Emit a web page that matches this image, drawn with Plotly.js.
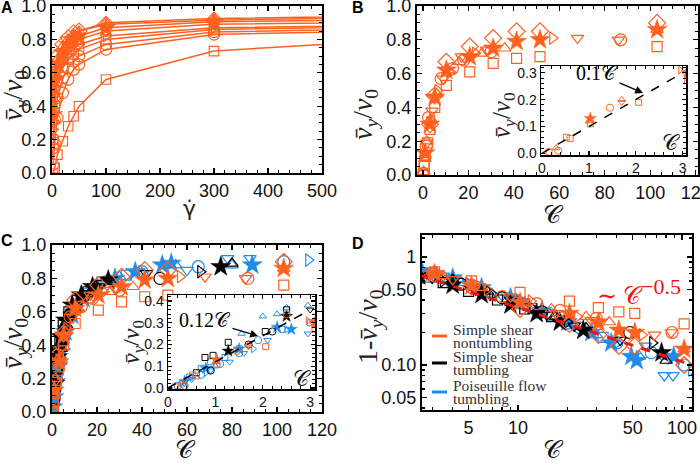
<!DOCTYPE html>
<html><head><meta charset="utf-8">
<script src="https://cdn.plot.ly/plotly-3.0.1.min.js"></script>
<style>html,body{margin:0;padding:0;background:#fff}#chart{width:700px;height:463px}</style>
</head><body><div id="chart"></div>
<script>
// ---------------- DATA ----------------
// Panel A: shear rate vs mean velocity
const shearRate = [2, 5, 10, 20, 30, 40, 50, 100, 300, 1000];
const aDiamond   = [0.45, 0.62, 0.70, 0.77, 0.81, 0.84, 0.85, 0.89, 0.915, 0.95];
const aTriUp     = [0.40, 0.58, 0.68, 0.76, 0.80, 0.83, 0.85, 0.90, 0.925, 0.955];
const aStar      = [0.35, 0.55, 0.65, 0.72, 0.77, 0.80, 0.82, 0.87, 0.905, 0.935];
const aTriDown   = [0.30, 0.50, 0.62, 0.70, 0.75, 0.78, 0.80, 0.85, 0.89, 0.92];
const aTriRight  = [0.26, 0.47, 0.58, 0.66, 0.71, 0.74, 0.77, 0.82, 0.87, 0.90];
const aSquareHi  = [0.20, 0.40, 0.55, 0.63, 0.68, 0.71, 0.74, 0.80, 0.86, 0.895];
const aCircleHi  = [0.15, 0.32, 0.45, 0.57, 0.63, 0.67, 0.70, 0.77, 0.845, 0.885];
const aCircle    = [0.05, 0.18, 0.33, 0.48, 0.56, 0.62, 0.65, 0.74, 0.83, 0.875];
const aSquare    = [0.00, 0.03, 0.11, 0.19, 0.28, 0.34, 0.40, 0.56, 0.73, 0.87];

// Simple shear, nontumbling (orange) : C and v
const oDiaC = [3.1, 5.2, 10.3, 20.6, 30.9, 41.2, 51.5, 103];
const oDiaV = [0.30, 0.47, 0.67, 0.76, 0.81, 0.85, 0.85, 0.90];
const oStarC = [1.03, 3.1, 5.2, 10.3, 20.6, 30.9, 41.2, 51.5, 103];
const oStarV = [0.13, 0.30, 0.46, 0.62, 0.70, 0.75, 0.79, 0.80, 0.86];
const oSqC = [0.15, 0.52, 0.6, 1.03, 2.06, 3.1, 5.2, 10.3, 20.6, 30.9, 41.2, 51.5, 103];
const oSqV = [0.005, 0.06, 0.055, 0.11, 0.19, 0.27, 0.40, 0.53, 0.61, 0.66, 0.69, 0.70, 0.76];
const oCirC = [0.35, 1.45, 2.5, 8, 13, 18, 30, 87];
const oCirV = [0.01, 0.17, 0.34, 0.57, 0.63, 0.68, 0.73, 0.80];
const oTriUpC = [0.3, 1.0, 1.7, 3.5, 6, 11, 16, 26, 36, 103];
const oTriUpV = [0.02, 0.12, 0.20, 0.33, 0.48, 0.62, 0.67, 0.72, 0.75, 0.86];
const oTriDnC = [1.7, 4, 9, 17, 28, 68, 86];
const oTriDnV = [0.19, 0.38, 0.57, 0.70, 0.74, 0.81, 0.80];
const oTriRtC = [2.95, 6.5, 12, 23, 57];
const oTriRtV = [0.31, 0.50, 0.61, 0.72, 0.81];

// Simple shear, tumbling (black)
const bStarC = [1.27, 2.5, 4, 6, 9, 13, 18, 25, 75];
const bStarV = [0.17, 0.33, 0.45, 0.55, 0.64, 0.70, 0.75, 0.79, 0.87];
const bSqC = [0.6, 0.78, 0.95, 1.27, 2.05, 2.5, 3.5, 5, 7.5, 11, 16];
const bSqV = [0.07, 0.14, 0.15, 0.21, 0.26, 0.36, 0.42, 0.52, 0.60, 0.67, 0.72];
const bCirC = [0.9, 1.7, 2.2, 4.5, 8, 14, 48];
const bCirV = [0.08, 0.20, 0.26, 0.44, 0.58, 0.69, 0.80];
const bTriDnC = [3, 5.5, 9, 15, 22, 42];
const bTriDnV = [0.36, 0.50, 0.60, 0.71, 0.77, 0.83];
const bTriRtC = [3.5, 7, 12, 20, 66];
const bTriRtV = [0.40, 0.55, 0.66, 0.75, 0.84];
const bTriUpC = [4, 6.5, 10, 17, 26, 80];
const bTriUpV = [0.38, 0.52, 0.62, 0.72, 0.78, 0.89];

// Poiseuille flow, tumbling (blue)
const uStarC = [0.35, 0.8, 1.5, 2.3, 2.6, 4, 6, 9, 14, 20, 28, 37, 49, 53, 89];
const uStarV = [0.03, 0.09, 0.18, 0.28, 0.27, 0.36, 0.48, 0.58, 0.68, 0.75, 0.80, 0.84, 0.88, 0.89, 0.88];
const uTriDnC = [0.5, 0.9, 1.3, 1.6, 2.1, 2.95, 3.5, 5, 8, 12, 18, 27, 60, 78, 88];
const uTriDnV = [0.04, 0.08, 0.12, 0.16, 0.22, 0.25, 0.33, 0.42, 0.56, 0.65, 0.73, 0.79, 0.85, 0.92, 0.92];
const uCirC = [0.3, 0.7, 1.1, 1.5, 1.9, 2.4, 3.2, 5.5, 10, 16, 24, 40, 65, 103];
const uCirV = [0.02, 0.06, 0.11, 0.16, 0.22, 0.27, 0.33, 0.47, 0.62, 0.71, 0.78, 0.84, 0.87, 0.90];
const uTriUpC = [0.5, 1.0, 1.55, 2.0, 2.3, 2.5, 2.95, 4.5, 7, 11, 19, 30, 55, 80];
const uTriUpV = [0.05, 0.10, 0.25, 0.33, 0.34, 0.37, 0.38, 0.42, 0.55, 0.65, 0.75, 0.81, 0.88, 0.88];
const uSqC = [0.2, 0.45, 0.7, 0.9, 1.2, 1.5, 3, 6, 11, 20, 33];
const uSqV = [0.01, 0.05, 0.09, 0.12, 0.14, 0.18, 0.30, 0.50, 0.63, 0.76, 0.82];
const uTriRtC = [0.8, 1.8, 2.5, 5, 10, 18, 40, 114];
const uTriRtV = [0.07, 0.18, 0.27, 0.43, 0.60, 0.73, 0.84, 0.91];

// Fit lines
const fitBC = [0, 3];    const fitBV = [0, 0.3];     // 0.1 C
const fitCC = [0, 3];    const fitCV = [0, 0.36];    // 0.12 C
const fitDC = [2.5, 120]; const fitDV = [0.68, 0.098]; // ~ C^-0.5

// ---------------- STYLE ----------------
const OR = 'rgb(255,96,30)', BL = 'rgb(30,140,235)', BK = '#000';
const W = 700, H = 463;
const SANS = 'Liberation Sans, Arial, sans-serif';
const SERIF = 'Liberation Serif, DejaVu Serif, serif';
const SIZE = {'diamond-open':13, 'star':15, 'square-open':10, 'circle-open':12,
  'triangle-up-open':11, 'triangle-down-open':11, 'triangle-right-open':11};

const orange = [
  ['diamond-open', oDiaC, oDiaV], ['square-open', oSqC, oSqV], ['circle-open', oCirC, oCirV],
  ['triangle-up-open', oTriUpC, oTriUpV], ['triangle-down-open', oTriDnC, oTriDnV],
  ['triangle-right-open', oTriRtC, oTriRtV], ['star', oStarC, oStarV]];
const black = [
  ['square-open', bSqC, bSqV], ['circle-open', bCirC, bCirV], ['triangle-down-open', bTriDnC, bTriDnV],
  ['triangle-right-open', bTriRtC, bTriRtV], ['triangle-up-open', bTriUpC, bTriUpV], ['star', bStarC, bStarV]];
const blue = [
  ['square-open', uSqC, uSqV], ['circle-open', uCirC, uCirV], ['triangle-down-open', uTriDnC, uTriDnV],
  ['triangle-right-open', uTriRtC, uTriRtV], ['triangle-up-open', uTriUpC, uTriUpV], ['star', uStarC, uStarV]];
const panelA = [
  ['square-open', aSquare], ['circle-open', aCircle], ['circle-open', aCircleHi], ['square-open', aSquareHi],
  ['triangle-right-open', aTriRight], ['triangle-down-open', aTriDown], ['star', aStar],
  ['diamond-open', aDiamond], ['triangle-up-open', aTriUp]];

function mk(sym, color, scale) {
  const filled = sym === 'star';
  return {symbol: sym, size: SIZE[sym] * scale, color: color,
          line: {color: color, width: filled ? 0.5 : 1.2 * Math.max(scale, 0.8)}};
}

const traces = [];
panelA.forEach(([sym, v]) => traces.push({x: shearRate, y: v, xaxis: 'x', yaxis: 'y', type: 'scatter',
  mode: 'lines+markers', line: {color: OR, width: 1.5}, marker: mk(sym, OR, 0.95), showlegend: false, hoverinfo: 'skip'}));

function addGroup(group, color, xa, ya, scale, transform) {
  group.forEach(([sym, c, v]) => traces.push({x: c, y: transform ? v.map(transform) : v, xaxis: xa, yaxis: ya,
    type: 'scatter', mode: 'markers', marker: mk(sym, color, scale), showlegend: false, hoverinfo: 'skip'}));
}
// B main + inset
addGroup(orange, OR, 'x2', 'y2', 1);
addGroup(orange, OR, 'x3', 'y3', 0.6);
traces.push({x: fitBC, y: fitBV, xaxis: 'x3', yaxis: 'y3', mode: 'lines', line: {color: BK, width: 1.5, dash: 'dash'}, showlegend: false});
// C main + inset
[[blue, BL], [black, BK], [orange, OR]].forEach(([g, col]) => addGroup(g, col, 'x4', 'y4', 1));
[[blue, BL], [black, BK], [orange, OR]].forEach(([g, col]) => addGroup(g, col, 'x5', 'y5', 0.6));
traces.push({x: fitCC, y: fitCV, xaxis: 'x5', yaxis: 'y5', mode: 'lines', line: {color: BK, width: 1.5, dash: 'dash'}, showlegend: false});
// D
const oneMinus = v => 1 - v;
[[blue, BL], [black, BK], [orange, OR]].forEach(([g, col]) => addGroup(g, col, 'x6', 'y6', 1, oneMinus));
traces.push({x: fitDC, y: fitDV, xaxis: 'x6', yaxis: 'y6', mode: 'lines', line: {color: 'rgb(240,20,20)', width: 3, dash: 'dash'}, showlegend: false});

// ---------------- AXES ----------------
function xd(l, r) { return [l / W, r / W]; }
function yd(t, b) { return [1 - b / H, 1 - t / H]; }
const TF = {family: SANS, size: 18, color: '#111'};
const TFI = {family: SANS, size: 14, color: '#111'};
function axis(dom, range, anchor, o) {
  return Object.assign({domain: dom, range: range, anchor: anchor, showline: true, linewidth: 2.2, linecolor: '#000',
    mirror: 'allticks', ticks: 'inside', ticklen: 5, tickwidth: 1.3, tickcolor: '#000', showgrid: false, zeroline: false,
    ticklabeloverflow: 'allow', tickfont: TF, fixedrange: true}, o);
}
const minorLin = d => ({dtick: d, ticks: 'inside', ticklen: 3, tickwidth: 1, tickcolor: '#000', showgrid: false});
const inset = {linewidth: 1.5, ticklen: 4, tickfont: TFI};

const layout = {
  width: W, height: H, margin: {l: 0, r: 0, t: 0, b: 0, autoexpand: false}, paper_bgcolor: '#fff', plot_bgcolor: '#fff',
  showlegend: false,
  xaxis: axis(xd(52, 322), [0, 500], 'y', {dtick: 100, minor: minorLin(20)}),
  yaxis: axis(yd(6, 173), [0, 1], 'x', {dtick: 0.2, tickformat: '.1f', minor: minorLin(0.05)}),
  xaxis2: axis(xd(417, 698), [-2.6, 121], 'y2', {dtick: 20, tick0: 0, minor: minorLin(5)}),
  yaxis2: axis(yd(6, 175), [0, 1], 'x2', {dtick: 0.2, tickformat: '.1f', minor: minorLin(0.05)}),
  xaxis3: axis(xd(541, 686), [-0.02, 3.07], 'y3', Object.assign({dtick: 1, tick0: 0, minor: minorLin(0.2)}, inset)),
  yaxis3: axis(yd(66, 155), [-0.006, 0.325], 'x3', Object.assign({dtick: 0.1, tick0: 0, tickformat: '.1f', minor: minorLin(0.02)}, inset)),
  xaxis4: axis(xd(52, 322), [0, 120], 'y4', {dtick: 20, minor: minorLin(5)}),
  yaxis4: axis(yd(245, 412), [0, 1], 'x4', {dtick: 0.2, tickformat: '.1f', minor: minorLin(0.05)}),
  xaxis5: axis(xd(168, 315), [0, 3.1], 'y5', Object.assign({dtick: 1, minor: minorLin(0.2)}, inset)),
  yaxis5: axis(yd(295, 389), [-0.005, 0.428], 'x5', Object.assign({dtick: 0.1, tick0: 0, tickformat: '.1f', minor: minorLin(0.02)}, inset)),
  xaxis6: axis(xd(422, 692), [Math.log10(2.6), Math.log10(115)], 'y6', {type: 'log', tickmode: 'array',
    tickvals: [5, 10, 50, 100], ticktext: ['5', '10', '50', '100'],
    minor: {tickmode: 'array', tickvals: [3, 4, 6, 7, 8, 9, 20, 30, 40, 60, 70, 80, 90], ticks: 'inside', ticklen: 3, tickcolor: '#000'}}),
  yaxis6: axis(yd(235, 410), [-1.417, 0.204], 'x6', {type: 'log', tickmode: 'array',
    tickvals: [0.05, 0.1, 0.5, 1], ticktext: ['0.05', '0.10', '0.50', '1'],
    minor: {tickmode: 'array', tickvals: [0.04, 0.06, 0.07, 0.08, 0.09, 0.2, 0.3, 0.4, 0.6, 0.7, 0.8, 0.9, 1.5], ticks: 'inside', ticklen: 3, tickcolor: '#000'}}),
  annotations: [],
  shapes: []
};

// ---------------- TEXT ----------------
const vTitle = '<i>v\u0304</i><sub><i>y</i></sub>/<i>v</i><sub>0</sub>';
const CC = '\uD835\uDC9E';
function note(x, y, text, size, o) {
  layout.annotations.push(Object.assign({x: x / W, y: 1 - y / H, xref: 'paper', yref: 'paper', text: text,
    xanchor: 'center', yanchor: 'middle', showarrow: false, borderpad: 0,
    font: {family: SERIF, size: size, color: '#222'}}, o));
}
const LET = {family: SANS, size: 16, color: '#000'};
// Panel letters
note(7, 8, '<b>A</b>', 16, {font: LET});
note(358, 8, '<b>B</b>', 16, {font: LET});
note(7, 241, '<b>C</b>', 16, {font: LET});
note(358, 243, '<b>D</b>', 16, {font: LET});
// Axis titles
note(14, 96, vTitle, 28, {textangle: -90});
note(189, 208, 'γ\u0307', 22, {font: {family: 'DejaVu Sans', size: 22, color: '#222'}});
note(364, 115, vTitle, 28, {textangle: -90});
note(503, 115, vTitle, 25, {textangle: -90});
note(133, 342, vTitle, 24, {textangle: -90});
note(14, 344, vTitle, 28, {textangle: -90});
note(369, 327, '1-' + vTitle, 28, {textangle: -90});
// calligraphic C labels
const CF = s => ({family: SERIF, size: s, color: '#111'});
note(553, 215, CC, 25, {font: CF(25)});
note(185, 449, CC, 25, {font: CF(25)});
note(553, 449, CC, 25, {font: CF(25)});
note(671, 143, CC, 22, {font: CF(22)});
note(302, 378, CC, 22, {font: CF(22)});
// Fit labels with arrows
layout.annotations.push({x: 643 / W, y: 1 - 93 / H, xref: 'paper', yref: 'paper', text: '0.1' + CC,
  showarrow: true, arrowhead: 2, arrowsize: 1.2, arrowwidth: 1.3, arrowcolor: '#000', ax: -46, ay: -20,
  font: {family: SERIF, size: 20, color: '#000'}});
layout.annotations.push({x: 258 / W, y: 1 - 336 / H, xref: 'paper', yref: 'paper', text: '0.12' + CC,
  showarrow: true, arrowhead: 2, arrowsize: 1.2, arrowwidth: 1.3, arrowcolor: '#000', ax: -53, ay: -16,
  font: {family: SERIF, size: 20, color: '#000'}});
note(639, 291, '∼ ' + CC + '<sup><span style="font-size:22px">−0.5</span></sup>', 24,
  {font: {family: SERIF, size: 24, color: 'rgb(240,20,20)'}});
// Legend (panel D)
[[336, OR, ['Simple shear', 'nontumbling']], [363, BK, ['Simple shear', 'tumbling']], [392, BL, ['Poiseuille flow', 'tumbling']]]
  .forEach(([y, col, lines]) => {
    layout.shapes.push({type: 'line', xref: 'paper', yref: 'paper', x0: 432 / W, x1: 447 / W, y0: 1 - y / H, y1: 1 - y / H,
      line: {color: col, width: 3}});
    note(452, y - 7, lines[0], 15.5, {xanchor: 'left', font: {family: SERIF, size: 15.5, color: '#333'}});
    note(452, y + 6, lines[1], 15.5, {xanchor: 'left', font: {family: SERIF, size: 15.5, color: '#333'}});
  });

Plotly.newPlot('chart', traces, layout, {staticPlot: true, displayModeBar: false});
</script></body></html>
